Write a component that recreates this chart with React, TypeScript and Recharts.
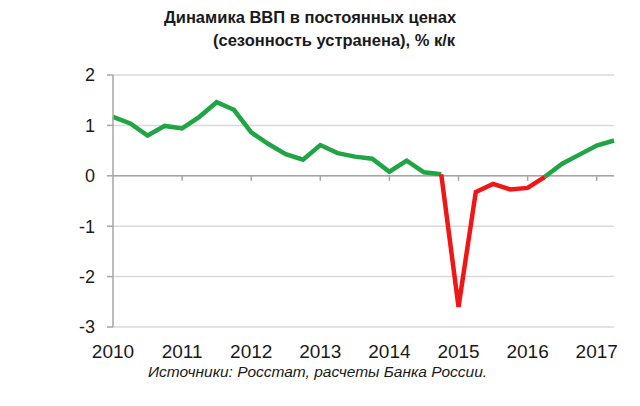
import { LineChart, Line, XAxis, YAxis, CartesianGrid, ReferenceLine } from "recharts";

// quarterly GDP growth, % q/q, seasonally adjusted
const quarters = [
  "2010Q1", "2010Q2", "2010Q3", "2010Q4",
  "2011Q1", "2011Q2", "2011Q3", "2011Q4",
  "2012Q1", "2012Q2", "2012Q3", "2012Q4",
  "2013Q1", "2013Q2", "2013Q3", "2013Q4",
  "2014Q1", "2014Q2", "2014Q3", "2014Q4",
  "2015Q1", "2015Q2", "2015Q3", "2015Q4",
  "2016Q1", "2016Q2", "2016Q3", "2016Q4",
  "2017Q1", "2017Q2",
];

const gdpGrowth = [
  1.17, 1.04, 0.8, 0.99,
  0.94, 1.17, 1.46, 1.31,
  0.86, 0.63, 0.43, 0.32,
  0.61, 0.45, 0.38, 0.34,
  0.08, 0.3, 0.07, 0.03,
  -2.6, -0.32, -0.16, -0.27,
  -0.24, -0.02, 0.24, 0.42,
  0.6, 0.7,
];

// the red (recession) stretch, by quarter
const recessionFrom = "2014Q4";
const recessionTo = "2016Q2";

const yearTicks = ["2011Q1", "2012Q1", "2013Q1", "2014Q1", "2015Q1", "2016Q1", "2017Q1"];
const yTicks = [-3, -2, -1, 0, 1, 2];

const from = quarters.indexOf(recessionFrom);
const to = quarters.indexOf(recessionTo);
const data = quarters.map((q, i) => ({
  q,
  green: i <= from || i >= to ? gdpGrowth[i] : null,
  red: i >= from && i <= to ? gdpGrowth[i] : null,
}));

const FONT = "'Liberation Sans', Arial, sans-serif";
const GREEN = "#20a545";
const RED = "#f01616";
const GRID = "#d9d9d9";
const AXIS = "#a6a6a6";

export default function App() {
  return (
    <div
      style={{
        position: "absolute",
        left: 0,
        top: 0,
        width: 640,
        height: 406,
        background: "#fff",
        fontFamily: FONT,
        color: "#1a1a1a",
      }}
    >
      <div style={{ position: "absolute", left: 164, top: 8, fontSize: 16.5, fontWeight: "bold", whiteSpace: "nowrap" }}>
        Динамика ВВП в постоянных ценах
      </div>
      <div style={{ position: "absolute", left: 213, top: 31, fontSize: 16.5, fontWeight: "bold", whiteSpace: "nowrap" }}>
        (сезонность устранена), % к/к
      </div>

      <LineChart width={640} height={406} data={data} margin={{ top: 75, right: 26, bottom: 49, left: 0 }}>
        <CartesianGrid vertical={false} stroke={GRID} strokeWidth={1.5} />
        <XAxis
          dataKey="q"
          interval={3}
          tickFormatter={(v: string) => v.slice(0, 4)}
          axisLine={false}
          tickLine={false}
          tickMargin={12}
          height={30}
          tick={{ fill: "#1a1a1a", fontSize: 19, fontFamily: FONT }}
        />
        <YAxis
          domain={[-3, 2]}
          ticks={yTicks}
          width={113}
          stroke={AXIS}
          strokeWidth={1.5}
          tickSize={6}
          tickMargin={12}
          tick={{ fill: "#1a1a1a", fontSize: 18, fontFamily: FONT }}
        />
        <ReferenceLine y={0} stroke={AXIS} strokeWidth={1.5} />
        {yearTicks.map((q) => (
          <ReferenceLine
            key={q}
            segment={[
              { x: q, y: 0 },
              { x: q, y: -0.1 },
            ]}
            stroke={AXIS}
            strokeWidth={1.5}
          />
        ))}
        <Line
          type="linear"
          dataKey="green"
          stroke={GREEN}
          strokeWidth={4.5}
          dot={false}
          isAnimationActive={false}
        />
        <Line
          type="linear"
          dataKey="red"
          stroke={RED}
          strokeWidth={4.5}
          dot={false}
          isAnimationActive={false}
        />
      </LineChart>

      <div
        style={{
          position: "absolute",
          left: 148,
          top: 363,
          fontSize: 15.5,
          fontStyle: "italic",
          whiteSpace: "nowrap",
        }}
      >
        Источники: Росстат, расчеты Банка России.
      </div>
    </div>
  );
}
